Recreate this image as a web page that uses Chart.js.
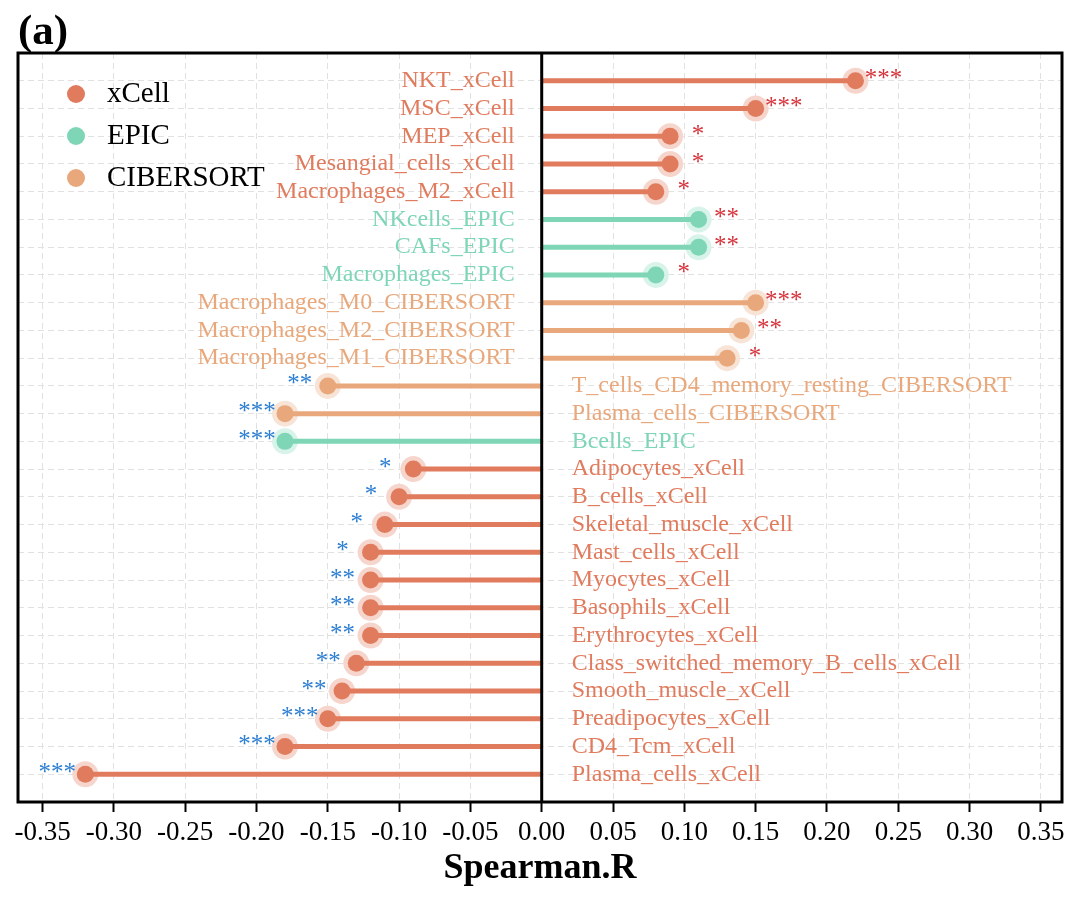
<!DOCTYPE html>
<html>
<head>
<meta charset="utf-8">
<script src="https://cdn.jsdelivr.net/npm/chart.js@4.4.1/dist/chart.umd.min.js"></script>
<style>
html,body{margin:0;padding:0;background:#fff;}
#wrap{width:1080px;height:900px;position:relative;}
</style>
</head>
<body>
<div id="wrap"><canvas id="c" width="1080" height="900"></canvas></div>
<script>
const categories = [
  'NKT_xCell','MSC_xCell','MEP_xCell','Mesangial_cells_xCell','Macrophages_M2_xCell',
  'NKcells_EPIC','CAFs_EPIC','Macrophages_EPIC',
  'Macrophages_M0_CIBERSORT','Macrophages_M2_CIBERSORT','Macrophages_M1_CIBERSORT',
  'T_cells_CD4_memory_resting_CIBERSORT','Plasma_cells_CIBERSORT','Bcells_EPIC',
  'Adipocytes_xCell','B_cells_xCell','Skeletal_muscle_xCell','Mast_cells_xCell',
  'Myocytes_xCell','Basophils_xCell','Erythrocytes_xCell','Class_switched_memory_B_cells_xCell',
  'Smooth_muscle_xCell','Preadipocytes_xCell','CD4_Tcm_xCell','Plasma_cells_xCell'
];
const values = [
  0.22, 0.15, 0.09, 0.09, 0.08,
  0.11, 0.11, 0.08,
  0.15, 0.14, 0.13,
  -0.15, -0.18, -0.18,
  -0.09, -0.10, -0.11, -0.12,
  -0.12, -0.12, -0.12, -0.13,
  -0.14, -0.15, -0.18, -0.32
];
const methods = [
  'xCell','xCell','xCell','xCell','xCell',
  'EPIC','EPIC','EPIC',
  'CIBERSORT','CIBERSORT','CIBERSORT',
  'CIBERSORT','CIBERSORT','EPIC',
  'xCell','xCell','xCell','xCell',
  'xCell','xCell','xCell','xCell',
  'xCell','xCell','xCell','xCell'
];
const significance = [
  '***','***','*','*','*',
  '**','**','*',
  '***','**','*',
  '**','***','***',
  '*','*','*','*',
  '**','**','**','**',
  '**','***','***','***'
];
const methodNames = ['xCell','EPIC','CIBERSORT'];
const xTickValues = [-0.35,-0.30,-0.25,-0.20,-0.15,-0.10,-0.05,0.00,0.05,0.10,0.15,0.20,0.25,0.30,0.35];

const methodColors = {xCell:'#E07B5E', EPIC:'#7ED6B6', CIBERSORT:'#E8A87C'};
const haloColors = {xCell:'#F6D6CC', EPIC:'#D8F3E9', CIBERSORT:'#F8E4D6'};
const SERIF = '"Liberation Serif", "Times New Roman", serif';

Chart.defaults.font.family = SERIF;

const datasets = [];
// dots (on top)
methodNames.forEach(m => {
  datasets.push({
    type: 'scatter', label: m,
    data: categories.map((c, i) => ({x: values[i], y: i})).filter((d, i) => methods[i] === m),
    pointRadius: 8.5, pointHoverRadius: 8.5, pointBorderWidth: 0,
    pointBackgroundColor: methodColors[m], backgroundColor: methodColors[m],
    order: 0
  });
});
// stems
categories.forEach((c, i) => {
  datasets.push({
    type: 'line', label: c,
    data: [{x: 0, y: i}, {x: values[i], y: i}],
    borderColor: methodColors[methods[i]], borderWidth: 5, borderCapStyle: 'butt',
    pointRadius: 0, pointHoverRadius: 0, showLine: true, fill: false,
    order: 1
  });
});
// halos (bottom)
methodNames.forEach(m => {
  datasets.push({
    type: 'scatter', label: m + ' halo',
    data: categories.map((c, i) => ({x: values[i], y: i})).filter((d, i) => methods[i] === m),
    pointRadius: 13, pointHoverRadius: 13, pointBorderWidth: 0,
    pointBackgroundColor: haloColors[m],
    order: 2
  });
});

const overlay = {
  id: 'overlay',
  afterDatasetsDraw(chart) {
    const {ctx, chartArea: a, scales: {x, y}} = chart;
    const x0 = x.getPixelForValue(0);
    ctx.save();
    // zero line
    ctx.strokeStyle = '#000'; ctx.lineWidth = 3;
    ctx.beginPath(); ctx.moveTo(x0, a.top); ctx.lineTo(x0, a.bottom); ctx.stroke();
    // category labels and significance stars
    ctx.textBaseline = 'middle';
    categories.forEach((c, i) => {
      const py = y.getPixelForValue(i);
      const v = values[i];
      ctx.font = '24px ' + SERIF;
      ctx.fillStyle = methodColors[methods[i]];
      if (v >= 0) { ctx.textAlign = 'right'; ctx.fillText(c, x0 - 27, py); }
      else { ctx.textAlign = 'left'; ctx.fillText(c, x0 + 30, py); }
      const px = x.getPixelForValue(v);
      ctx.fillStyle = v >= 0 ? '#D6343C' : '#2E7FD2';
      ctx.textAlign = 'center';
      ctx.font = '25px ' + SERIF;
      ctx.fillText(significance[i], px + (v >= 0 ? 28 : -28), py - 1);
    });
    // legend
    methodNames.forEach((m, k) => {
      const ly = a.top + 41 + k * 42;
      ctx.fillStyle = methodColors[m];
      ctx.beginPath(); ctx.arc(a.left + 58, ly, 9, 0, Math.PI * 2); ctx.fill();
      ctx.fillStyle = '#000';
      ctx.font = '29px ' + SERIF;
      ctx.textAlign = 'left';
      ctx.fillText(m, a.left + 89, ly);
    });
    ctx.restore();
  },
  afterDraw(chart) {
    const {ctx, chartArea: a} = chart;
    ctx.save();
    ctx.strokeStyle = '#000'; ctx.lineWidth = 3;
    ctx.strokeRect(a.left, a.top, a.right - a.left, a.bottom - a.top);
    ctx.fillStyle = '#000';
    ctx.font = 'bold 43px ' + SERIF;
    ctx.textAlign = 'left'; ctx.textBaseline = 'alphabetic';
    ctx.fillText('(a)', 18, 44);
    ctx.restore();
  }
};

new Chart(document.getElementById('c'), {
  type: 'scatter',
  data: {datasets},
  options: {
    responsive: false,
    animation: false,
    events: [],
    layout: {padding: {left: 18, right: 18, top: 53, bottom: 0}},
    plugins: {legend: {display: false}, tooltip: {enabled: false}, title: {display: false}},
    scales: {
      x: {
        type: 'linear', min: -0.3672, max: 0.3648,
        afterBuildTicks: s => { s.ticks = xTickValues.map(v => ({value: v})); },
        afterFit: s => { s.height = 98; },
        ticks: {
          color: '#000', font: {size: 27, family: SERIF}, padding: 5,
          maxRotation: 0, autoSkip: false,
          callback: v => Number(v).toFixed(2)
        },
        grid: {
          color: '#E1E1E1', lineWidth: 1, drawTicks: true, tickLength: 10,
          tickColor: '#000', tickWidth: 2, tickBorderDash: []
        },
        border: {display: false, dash: [6, 4]},
        title: {
          display: true, text: 'Spearman.R', color: '#000',
          font: {size: 36, weight: 'bold', family: SERIF},
          padding: {top: 0, bottom: 10}
        }
      },
      y: {
        type: 'linear', reverse: true, min: -1, max: 26,
        afterBuildTicks: s => { s.ticks = categories.map((c, i) => ({value: i})); },
        afterFit: s => { s.width = 0; },
        ticks: {display: false},
        grid: {color: '#E1E1E1', lineWidth: 1, drawTicks: false},
        border: {display: false, dash: [6, 4]}
      }
    }
  },
  plugins: [overlay]
});
</script>
</body>
</html>
